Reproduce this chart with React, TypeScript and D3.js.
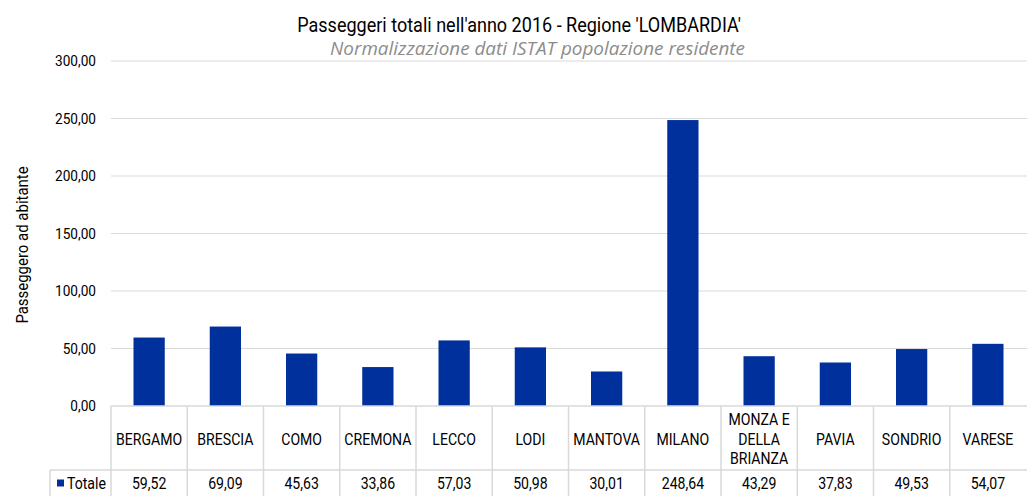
import React, { useEffect, useRef } from 'react';
import * as d3 from 'd3';

const province = ['BERGAMO', 'BRESCIA', 'COMO', 'CREMONA', 'LECCO', 'LODI', 'MANTOVA', 'MILANO', 'MONZA E DELLA BRIANZA', 'PAVIA', 'SONDRIO', 'VARESE'];
const totale = [59.52, 69.09, 45.63, 33.86, 57.03, 50.98, 30.01, 248.64, 43.29, 37.83, 49.53, 54.07];
const yTicks = [0, 50, 100, 150, 200, 250, 300];

const W = 1027;
const H = 496;
const FONT = 'Roboto, sans-serif';
const SX = 0.88; // compressione orizzontale per simulare il carattere condensed
const BLUE = '#00309b';
const GRID = '#d9d9d9';

const it = d3.formatLocale({ decimal: ',', thousands: '.', grouping: [3], currency: ['€', ''] });
const fmt = it.format('.2f');

// testo "stretto": Roboto compresso orizzontalmente
function narrowText(parent: any, x: number, y: number, size: number, anchor = 'middle') {
  return parent.append('text')
    .attr('transform', `translate(${x},${y}) scale(${SX},1)`)
    .attr('text-anchor', anchor)
    .style('font-family', FONT)
    .style('font-size', size + 'px')
    .attr('fill', '#000');
}

export default function App() {
  const ref = useRef<SVGSVGElement>(null);

  useEffect(() => {
    const svg = d3.select(ref.current);
    svg.selectAll('*').remove();

    const left = 111, right = 1026, top = 61, base = 406;
    const headBottom = 470, legendLeft = 50;

    const x = d3.scaleBand().domain(province).range([left, right]).padding(0);
    const y = d3.scaleLinear().domain([0, 300]).range([base, top]);
    const barW = x.bandwidth() * 0.41;

    // titolo
    narrowText(svg, 519, 32, 20.5).text("Passeggeri totali nell'anno 2016 - Regione 'LOMBARDIA'");
    svg.append('text')
      .attr('x', 330).attr('y', 55)
      .attr('textLength', 415).attr('lengthAdjust', 'spacingAndGlyphs')
      .style('font-family', "'Open Sans', sans-serif").style('font-size', '17.5px')
      .style('font-style', 'italic').attr('fill', '#8c8c8c')
      .text('Normalizzazione dati ISTAT popolazione residente');

    // griglia e tick
    svg.append('g').selectAll('line').data(yTicks.filter(d => d > 0)).enter().append('line')
      .attr('x1', left).attr('x2', W).attr('y1', d => y(d)).attr('y2', d => y(d))
      .attr('stroke', GRID).attr('stroke-width', 1);
    const tg = svg.append('g');
    yTicks.forEach(d => {
      narrowText(tg, 96, y(d), 15.5, 'end').attr('dy', '0.35em').text(fmt(d));
    });

    svg.append('text')
      .attr('transform', `translate(28, 245) rotate(-90) scale(${SX},1)`)
      .attr('text-anchor', 'middle')
      .style('font-family', FONT).style('font-size', '17px')
      .text('Passeggero ad abitante');

    // barre
    svg.append('g').selectAll('rect').data(totale).enter().append('rect')
      .attr('x', (d, i) => x(province[i])! + (x.bandwidth() - barW) / 2)
      .attr('width', barW)
      .attr('y', d => y(d))
      .attr('height', d => y(0) - y(d))
      .attr('fill', BLUE);

    // tabella dati
    const t = svg.append('g').attr('stroke', GRID).attr('stroke-width', 1.5);
    t.append('line').attr('x1', left).attr('x2', W).attr('y1', base).attr('y2', base);
    t.append('line').attr('x1', legendLeft).attr('x2', W).attr('y1', headBottom).attr('y2', headBottom);
    t.append('line').attr('x1', left).attr('x2', left).attr('y1', base).attr('y2', H);
    t.append('line').attr('x1', legendLeft).attr('x2', legendLeft).attr('y1', headBottom).attr('y2', H);
    t.selectAll('line.col').data(province.slice(1)).enter().append('line')
      .attr('class', 'col')
      .attr('x1', d => x(d)!).attr('x2', d => x(d)!)
      .attr('y1', base).attr('y2', H);

    const lg = svg.append('g');
    province.forEach(d => {
      const words = d === 'MONZA E DELLA BRIANZA' ? ['MONZA E', 'DELLA', 'BRIANZA'] : [d];
      const cx = x(d)! + x.bandwidth() / 2;
      words.forEach((w, k) => {
        narrowText(lg, cx, 439 + (k - (words.length - 1) / 2) * 19.5, 16)
          .attr('dy', '0.35em').text(w);
      });
    });

    const vg = svg.append('g');
    totale.forEach((d, i) => {
      narrowText(vg, x(province[i])! + x.bandwidth() / 2, 483, 16).attr('dy', '0.35em').text(fmt(d));
    });

    // legenda
    svg.append('rect').attr('x', 57).attr('y', 479.5).attr('width', 7).attr('height', 7).attr('fill', BLUE);
    narrowText(svg, 67, 483, 16, 'start').attr('dy', '0.35em').text('Totale');
  }, []);

  return (
    <div style={{ position: 'absolute', left: 0, top: 0 }}>
      <svg ref={ref} width={W} height={H} style={{ display: 'block', background: '#fff' }} />
    </div>
  );
}
